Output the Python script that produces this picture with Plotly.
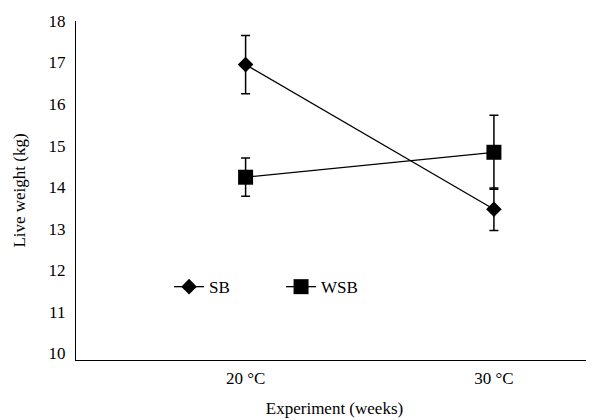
import plotly.graph_objects as go

categories = ["20 °C", "30 °C"]
sb_values = [16.95, 13.47]
sb_errors = [0.70, 0.51]
wsb_values = [14.24, 14.84]
wsb_errors = [0.46, 0.89]
y_ticks = [10, 11, 12, 13, 14, 15, 16, 17, 18]

x_pos = list(range(len(categories)))
font_family = "Liberation Serif"

fig = go.Figure()
fig.add_trace(go.Scatter(
    x=x_pos, y=sb_values, name="SB", mode="lines+markers",
    line=dict(color="black", width=1.3),
    marker=dict(symbol="diamond", size=12, color="black"),
    error_y=dict(type="data", array=sb_errors, visible=True,
                 color="black", thickness=1.5, width=4.5),
))
fig.add_trace(go.Scatter(
    x=x_pos, y=wsb_values, name="WSB", mode="lines+markers",
    line=dict(color="black", width=1.3),
    marker=dict(symbol="square", size=15, color="black"),
    error_y=dict(type="data", array=wsb_errors, visible=True,
                 color="black", thickness=1.5, width=4.5),
))

# page body has an 8px margin, so the figure is sized to fit the window
fig.update_layout(
    width=586, height=412,
    margin=dict(l=68, r=1, t=13, b=60),
    paper_bgcolor="white", plot_bgcolor="white",
    font=dict(family=font_family, size=17, color="black"),
    showlegend=True,
    legend=dict(
        orientation="h", x=0.18, y=0.215, xanchor="left", yanchor="middle",
        bgcolor="rgba(0,0,0,0)", entrywidth=67, entrywidthmode="pixels",
        font=dict(family=font_family, size=17, color="black"),
    ),
)
fig.update_xaxes(
    range=[-0.683, 1.399], tickvals=x_pos, ticktext=categories,
    showline=True, linecolor="black", linewidth=1.3, showgrid=False,
    zeroline=False, ticks="", ticklabelstandoff=2,
    title=dict(text="Experiment (weeks)", standoff=15,
               font=dict(family=font_family, size=17)),
)
fig.update_yaxes(
    range=[9.84, 18.0], tickvals=y_ticks,
    showline=True, linecolor="black", linewidth=1.3, showgrid=False,
    zeroline=False, ticks="", ticklabelstandoff=6,
    title=dict(text="Live weight (kg)", standoff=18,
               font=dict(family=font_family, size=17)),
)

fig.write_html("out.html")
